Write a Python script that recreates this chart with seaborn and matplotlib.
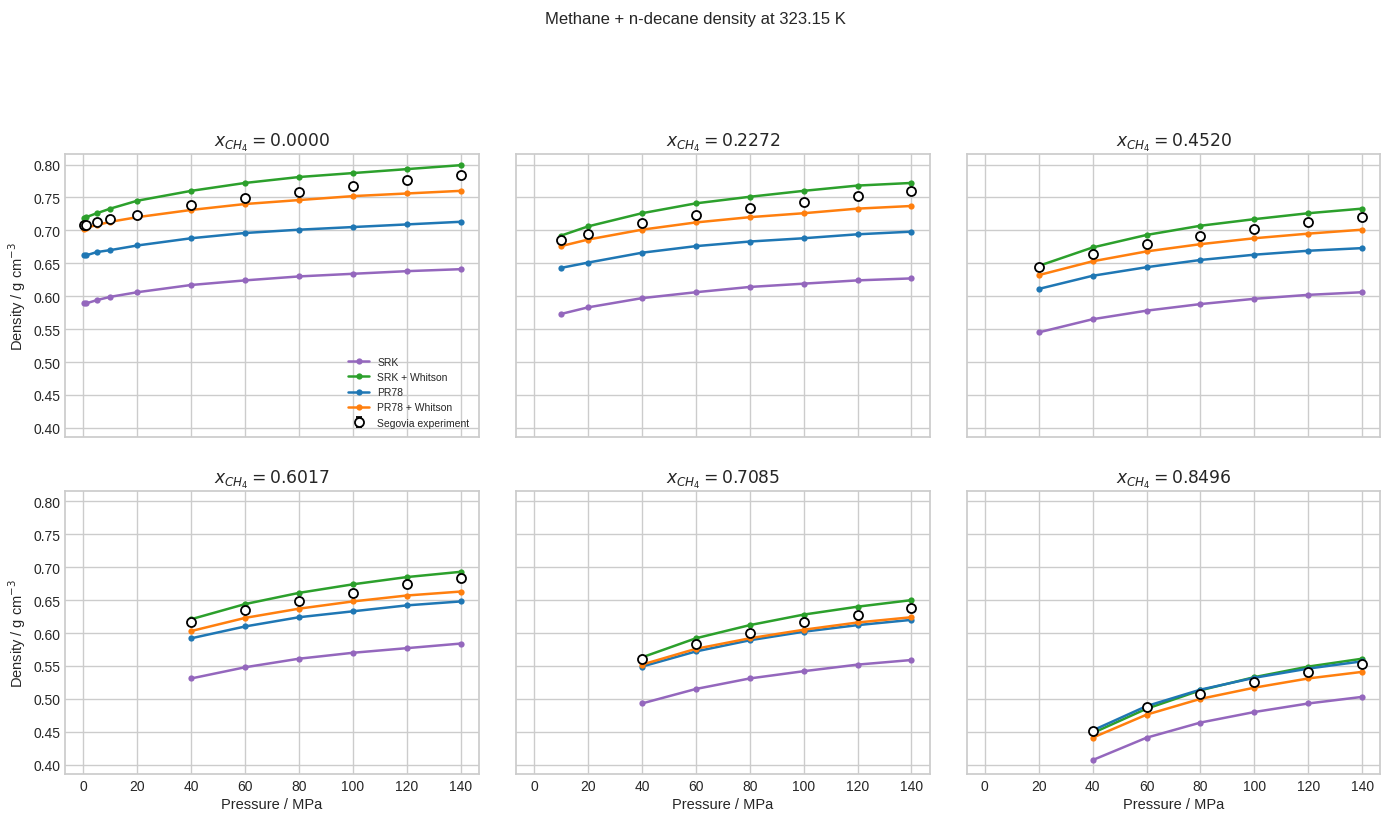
import numpy as np
import pandas as pd
import matplotlib
matplotlib.use("Agg")
import matplotlib.pyplot as plt
import seaborn as sns

# composições (fração molar de metano) e pressões de cada painel
x_ch4 = ["0.0000", "0.2272", "0.4520", "0.6017", "0.7085", "0.8496"]
p_0 = [0.1, 1, 5, 10, 20, 40, 60, 80, 100, 120, 140]
p_1 = [10, 20, 40, 60, 80, 100, 120, 140]
p_2 = [20, 40, 60, 80, 100, 120, 140]
p_3 = [40, 60, 80, 100, 120, 140]
p_4 = [40, 60, 80, 100, 120, 140]
p_5 = [40, 60, 80, 100, 120, 140]
pressoes = [p_0, p_1, p_2, p_3, p_4, p_5]

# densidades dos modelos (g/cm3)
srk = [
    [0.589, 0.589, 0.594, 0.599, 0.606, 0.617, 0.624, 0.630, 0.634, 0.638, 0.641],
    [0.573, 0.583, 0.597, 0.606, 0.614, 0.619, 0.624, 0.627],
    [0.545, 0.565, 0.578, 0.588, 0.596, 0.602, 0.606],
    [0.531, 0.548, 0.561, 0.570, 0.577, 0.584],
    [0.493, 0.515, 0.531, 0.542, 0.552, 0.559],
    [0.407, 0.441, 0.464, 0.480, 0.493, 0.503],
]
srk_whitson = [
    [0.718, 0.720, 0.726, 0.733, 0.745, 0.760, 0.772, 0.781, 0.787, 0.793, 0.799],
    [0.692, 0.706, 0.726, 0.741, 0.751, 0.760, 0.768, 0.772],
    [0.646, 0.674, 0.693, 0.707, 0.717, 0.726, 0.733],
    [0.621, 0.644, 0.661, 0.674, 0.685, 0.693],
    [0.563, 0.592, 0.612, 0.628, 0.640, 0.650],
    [0.448, 0.485, 0.513, 0.533, 0.549, 0.561],
]
pr78 = [
    [0.662, 0.662, 0.667, 0.670, 0.677, 0.688, 0.696, 0.701, 0.705, 0.709, 0.713],
    [0.643, 0.651, 0.666, 0.676, 0.683, 0.688, 0.694, 0.698],
    [0.611, 0.631, 0.644, 0.655, 0.663, 0.669, 0.673],
    [0.592, 0.610, 0.624, 0.633, 0.642, 0.648],
    [0.549, 0.572, 0.589, 0.602, 0.612, 0.620],
    [0.452, 0.489, 0.514, 0.532, 0.546, 0.557],
]
pr78_whitson = [
    [0.702, 0.704, 0.708, 0.713, 0.720, 0.731, 0.740, 0.746, 0.752, 0.756, 0.760],
    [0.676, 0.686, 0.701, 0.712, 0.720, 0.726, 0.733, 0.737],
    [0.632, 0.653, 0.668, 0.679, 0.688, 0.695, 0.701],
    [0.603, 0.623, 0.637, 0.648, 0.657, 0.663],
    [0.552, 0.576, 0.592, 0.605, 0.616, 0.624],
    [0.441, 0.476, 0.500, 0.517, 0.531, 0.541],
]

# dados experimentais de Segovia
exp_rho = [
    [0.708, 0.708, 0.712, 0.717, 0.724, 0.739, 0.749, 0.758, 0.767, 0.777, 0.784],
    [0.685, 0.694, 0.711, 0.723, 0.734, 0.743, 0.752, 0.760],
    [0.644, 0.664, 0.679, 0.691, 0.702, 0.713, 0.721],
    [0.617, 0.635, 0.649, 0.661, 0.674, 0.683],
    [0.561, 0.584, 0.600, 0.616, 0.628, 0.638],
    [0.451, 0.487, 0.507, 0.526, 0.541, 0.553],
]
exp_err = 0.002

modelos = ["SRK", "SRK + Whitson", "PR78", "PR78 + Whitson"]
cores = {"SRK": "#9467bd", "SRK + Whitson": "#2ca02c",
         "PR78": "#1f77b4", "PR78 + Whitson": "#ff7f0e"}
series = [srk, srk_whitson, pr78, pr78_whitson]

sns.set_theme(style="whitegrid")
plt.rcParams['font.family'] = ['Liberation Sans', 'DejaVu Sans']
plt.rcParams['mathtext.fontset'] = 'dejavusans'

fig, axes = plt.subplots(2, 3, figsize=(13.9, 8.2), dpi=100, sharex=True, sharey=True)
fig.subplots_adjust(left=0.047, right=0.993, top=0.811, bottom=0.055, wspace=0.09, hspace=0.19)

for i, ax in enumerate(axes.flat):
    linhas = []
    for nome, s in zip(modelos, series):
        for p, r in zip(pressoes[i], s[i]):
            linhas.append({"P": p, "rho": r, "Modelo": nome})
    df = pd.DataFrame(linhas)
    sns.lineplot(data=df, x="P", y="rho", hue="Modelo", hue_order=modelos,
                 palette=cores, marker="o", markersize=4.5, markeredgewidth=0,
                 linewidth=1.8, legend=(i == 0), ax=ax)
    ax.errorbar(pressoes[i], exp_rho[i], yerr=exp_err, fmt="o", mfc="white",
                mec="black", ecolor="black", mew=1.3, ms=6.5, capsize=2,
                zorder=5, label="Segovia experiment")
    ax.set_title(r"$x_{CH_4} = " + x_ch4[i] + "$", fontsize=12.3)
    ax.set_xlabel("Pressure / MPa", fontsize=10.5, labelpad=3)
    ax.set_ylabel(r"Density / g cm$^{-3}$", fontsize=10.5, labelpad=4)
    ax.xaxis.set_tick_params(labelbottom=(i >= 3))
    ax.tick_params(labelsize=10, length=0, pad=3.5)
    if i == 0:
        ax.legend(loc="lower right", fontsize=7.5, frameon=False)

axes[0, 0].set_xlim(-6.7, 146.7)
axes[0, 0].set_ylim(0.386, 0.816)
axes[0, 0].set_xticks(np.arange(0, 141, 20))
axes[0, 0].set_yticks(np.arange(0.40, 0.801, 0.05))

fig.suptitle("Methane + n-decane density at 323.15 K", fontsize=12, y=0.985)
plt.savefig("out.png")
